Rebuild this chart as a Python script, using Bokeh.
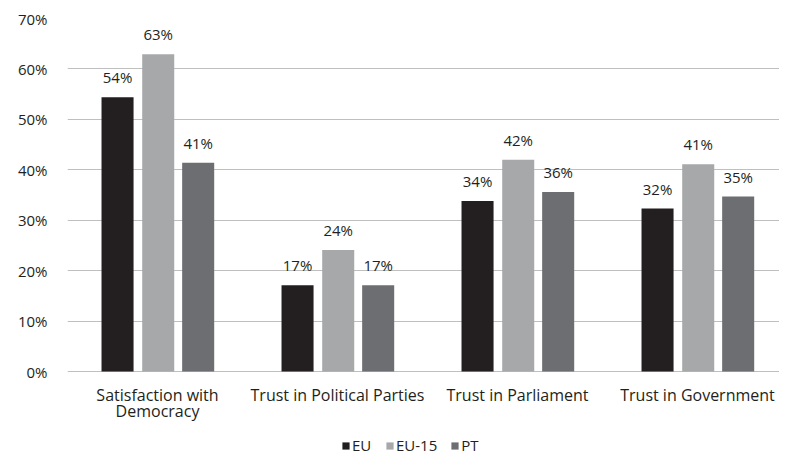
from bokeh.plotting import figure
from bokeh.models import ColumnDataSource, Range1d, FixedTicker, Legend, LegendItem
from bokeh.transform import dodge
from bokeh.core.properties import value
from bokeh.embed import file_html
from bokeh.resources import INLINE

categories = ["Satisfaction with Democracy", "Trust in Political Parties",
              "Trust in Parliament", "Trust in Government"]
tick_line1 = ["Satisfaction with", "Trust in Political Parties",
              "Trust in Parliament", "Trust in Government"]
tick_line2 = ["Democracy", "", "", ""]
series = ["EU", "EU-15", "PT"]
eu = [54.4, 17.1, 33.8, 32.3]
eu15 = [62.9, 24.1, 42.0, 41.1]
pt = [41.4, 17.1, 35.6, 34.7]
colors = ["#231f20", "#a7a8aa", "#6d6e71"]
y_ticks = [0, 10, 20, 30, 40, 50, 60, 70]

FONT = "Open Sans"
TXT = "#231f20"

# category slot centres on a numeric x scale (one unit per category)
xpos = [i + 0.5 for i in range(len(categories))]

src = ColumnDataSource(dict(
    x=xpos, EU=eu, EU15=eu15, PT=pt,
    EU_l=[f"{round(v)}%" for v in eu],
    EU15_l=[f"{round(v)}%" for v in eu15],
    PT_l=[f"{round(v)}%" for v in pt],
    l1=tick_line1, l2=tick_line2, base=[0] * len(categories),
))

W, H = 779, 456
LEFT, TOP = 67, 18
ZERO_PX = 371
px_per_unit = (ZERO_PX - TOP) / 70.0
y_low = -(H - ZERO_PX) / px_per_unit
x_high = (W - LEFT) / 180.0

p = figure(x_range=Range1d(0, x_high), y_range=Range1d(y_low, 70),
           width=W, height=H, output_backend="svg", toolbar_location=None,
           min_border_left=LEFT, min_border_right=0, min_border_top=TOP,
           min_border_bottom=0)
p.outline_line_color = None
p.background_fill_color = "white"
p.border_fill_color = "white"

cols = [("EU", "EU_l", -0.222), ("EU15", "EU15_l", 0.004), ("PT", "PT_l", 0.226)]
renderers = []
for (col, lab, off), c in zip(cols, colors):
    r = p.vbar(x=dodge("x", off), top=col, width=0.178,
               source=src, fill_color=c, line_color=None)
    renderers.append(r)
    p.text(x=dodge("x", off), y=col, text=lab, source=src,
           text_align="center", text_baseline="alphabetic", y_offset=-20,
           text_font=value(FONT), text_font_size="15px", text_color=TXT)

# category labels (two lines)
p.text(x="x", y="base", text="l1", source=src, text_align="center",
       text_baseline="alphabetic", y_offset=23, text_font=value(FONT),
       text_font_size="16px", text_color=TXT)
p.text(x="x", y="base", text="l2", source=src, text_align="center",
       text_baseline="alphabetic", y_offset=39, text_font=value(FONT),
       text_font_size="16px", text_color=TXT)

p.xaxis.visible = False

p.yaxis.ticker = FixedTicker(ticks=y_ticks)
p.yaxis.major_label_overrides = {t: f"{t}%" for t in y_ticks}
p.yaxis.axis_line_color = None
p.yaxis.major_tick_line_color = None
p.yaxis.minor_tick_line_color = None
p.yaxis.major_label_text_font = FONT
p.yaxis.major_label_text_font_size = "15px"
p.yaxis.major_label_text_color = TXT
p.yaxis.major_label_standoff = 14

p.xgrid.grid_line_color = None
p.ygrid.ticker = FixedTicker(ticks=y_ticks)
p.ygrid.grid_line_color = "#bfbfbf"
p.ygrid.grid_line_width = 1

legend = Legend(items=[LegendItem(label=s, renderers=[r]) for s, r in zip(series, renderers)],
                orientation="horizontal", location=(274, 1),
                label_text_font=FONT, label_text_font_size="15px", label_text_color=TXT,
                glyph_width=9, glyph_height=9, label_standoff=2, spacing=13,
                label_height=14, border_line_color=None, background_fill_alpha=0,
                padding=0, margin=0)
p.add_layout(legend)

open("out.html", "w").write(file_html(p, INLINE))
